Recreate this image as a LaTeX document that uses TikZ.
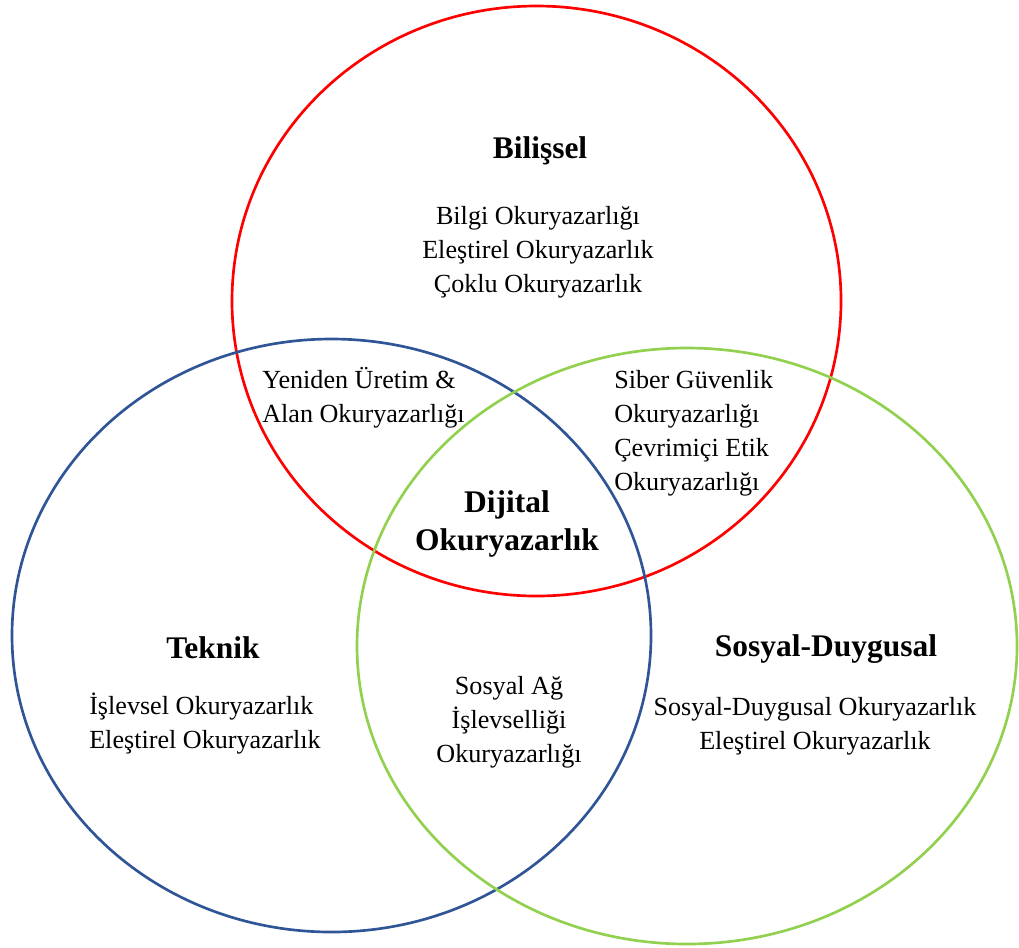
\documentclass[tikz,border=0pt]{standalone}
\usepackage{fontspec}
\setmainfont{Liberation Serif}
\definecolor{bilred}{RGB}{255,0,0}
\definecolor{tekblue}{RGB}{47,85,151}
\definecolor{sosgreen}{RGB}{146,208,80}
\tikzset{
  ring/.style={line width=2pt},
  title/.style={font=\fontsize{23.6}{29}\selectfont\bfseries, inner sep=0pt, align=center},
  items/.style={font=\fontsize{19.6}{25.5}\selectfont, inner sep=0pt, align=center},
  itemsl/.style={items, align=left, anchor=west}
}
\begin{document}
\begin{tikzpicture}[x=0.75pt,y=-0.75pt]
\useasboundingbox (0,0) rectangle (1019,947);
% the three areas
\draw[ring, bilred]   (536.5, 301) ellipse [x radius=304.5, y radius=295];
\draw[ring, tekblue]  (331.5, 635.5) ellipse [x radius=319.5, y radius=296.5];
\draw[ring, sosgreen] (687, 646) ellipse [x radius=330, y radius=298];
% titles
\node[title] (bilissel) at (540, 151) {Bilişsel};
\node[title] (teknik)   at (213, 648) {Teknik};
\node[title] (sosyal)   at (826, 649) {Sosyal-Duygusal};
\node[title] (dijital)  at (507, 524) {Dijital\\Okuryazarlık};
% literacies
\node[items]  (bilgi)   at (538, 252) {Bilgi Okuryazarlığı\\Eleştirel Okuryazarlık\\Çoklu Okuryazarlık};
\node[itemsl] (yeniden) at (262, 398) {Yeniden Üretim \&\\Alan Okuryazarlığı};
\node[itemsl] (siber)   at (614, 433) {Siber Güvenlik\\Okuryazarlığı\\Çevrimiçi Etik\\Okuryazarlığı};
\node[itemsl] (islevsel) at (89, 724) {İşlevsel Okuryazarlık\\Eleştirel Okuryazarlık};
\node[items]  (sosyalag) at (509, 722) {Sosyal Ağ\\İşlevselliği\\Okuryazarlığı};
\node[items]  (duygusal) at (815, 726) {Sosyal-Duygusal Okuryazarlık\\Eleştirel Okuryazarlık};
\end{tikzpicture}
\end{document}
